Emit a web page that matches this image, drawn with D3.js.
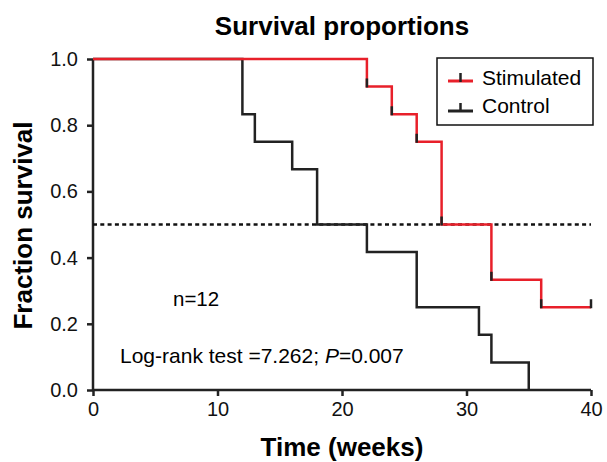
<!DOCTYPE html>
<html>
<head>
<meta charset="utf-8">
<script src="https://cdn.jsdelivr.net/npm/d3@7"></script>
<style>
  body { margin: 0; background: #fff; }
  text { font-family: "Liberation Sans", Arial, sans-serif; }
</style>
</head>
<body>
<svg id="chart"></svg>
<script>
// data (step survival curves, n=12 each)
var controlTimes = [0, 12, 13, 16, 18, 22, 26, 31, 32, 35];
var controlSurv = [1, 0.833, 0.75, 0.667, 0.5, 0.417, 0.25, 0.167, 0.083, 0];
var stimTimes = [0, 22, 24, 26, 28, 32, 36, 40];
var stimSurv = [1, 0.917, 0.833, 0.75, 0.5, 0.333, 0.25, 0.25];
var xTicks = [0, 10, 20, 30, 40];
var yTicks = [0, 0.2, 0.4, 0.6, 0.8, 1.0];

var svgWidth = 607;
var svgHeight = 462;
var margin = {left: 93, right: 16, top: 59, bottom: 72};

var svg = d3.select("#chart")
    .attr("width", svgWidth)
    .attr("height", svgHeight);

var x = d3.scaleLinear().domain([0, 40]).range([margin.left, svgWidth - margin.right]);
var y = d3.scaleLinear().domain([0, 1]).range([svgHeight - margin.bottom, margin.top]);

var xAxis = svg.append("g")
    .attr("transform", "translate(0," + y(0) + ")")
    .call(d3.axisBottom(x).tickValues(xTicks).tickSize(6).tickPadding(6));
var yAxis = svg.append("g")
    .attr("transform", "translate(" + x(0) + ",0)")
    .call(d3.axisLeft(y).tickValues(yTicks).tickSize(6).tickPadding(9).tickFormat(d3.format(".1f")));

[xAxis, yAxis].forEach(function(a) {
    a.select(".domain").attr("stroke", "#222").attr("stroke-width", 2.5).attr("d", function() {
        return a === xAxis ? "M" + (x(0) - 1) + ",0H" + x(40) : "M0," + y(0) + "V" + y(1);
    });
    a.selectAll(".tick line").attr("stroke", "#222").attr("stroke-width", 2.5);
    a.selectAll(".tick text").attr("font-size", 20).attr("fill", "#111")
        .style("font-family", "Liberation Sans, Arial, sans-serif");
});

// median line
svg.append("line")
    .attr("x1", x(0)).attr("x2", x(40))
    .attr("y1", y(0.5)).attr("y2", y(0.5))
    .attr("stroke", "#111").attr("stroke-width", 2.5)
    .attr("stroke-dasharray", "4,3.3");

var line = d3.line()
    .x(function(d) { return x(d[0]); })
    .y(function(d) { return y(d[1]); })
    .curve(d3.curveStepAfter);

svg.append("path")
    .datum(d3.zip(controlTimes, controlSurv))
    .attr("d", line)
    .attr("fill", "none")
    .attr("stroke", "#222")
    .attr("stroke-width", 2.5);

svg.append("path")
    .datum(d3.zip(stimTimes, stimSurv))
    .attr("d", line)
    .attr("fill", "none")
    .attr("stroke", "#e8202a")
    .attr("stroke-width", 2.5);

// small black marks at the red step points
svg.selectAll(".mark")
    .data(d3.zip(stimTimes, stimSurv).slice(1))
    .enter()
    .append("line")
    .attr("x1", function(d) { return x(d[0]); })
    .attr("x2", function(d) { return x(d[0]); })
    .attr("y1", function(d) { return y(d[1]) + 1; })
    .attr("y2", function(d) { return y(d[1]) - 8; })
    .attr("stroke", "#222")
    .attr("stroke-width", 2.5);

// titles
svg.append("text")
    .attr("x", 342).attr("y", 35)
    .attr("text-anchor", "middle")
    .attr("font-size", 26).attr("font-weight", "bold")
    .text("Survival proportions");

svg.append("text")
    .attr("x", x(20)).attr("y", 456)
    .attr("text-anchor", "middle")
    .attr("font-size", 26).attr("font-weight", "bold")
    .text("Time (weeks)");

svg.append("text")
    .attr("transform", "translate(32," + (y(0.5) + 1) + ") rotate(-90)")
    .attr("text-anchor", "middle")
    .attr("font-size", 26).attr("font-weight", "bold")
    .text("Fraction survival");

svg.append("text")
    .attr("x", 173).attr("y", 306)
    .attr("font-size", 20.5)
    .text("n=12");

var lr = svg.append("text")
    .attr("x", 120).attr("y", 363)
    .attr("font-size", 21);
lr.append("tspan").text("Log-rank test =7.262; ");
lr.append("tspan").attr("font-style", "italic").text("P");
lr.append("tspan").text("=0.007");

// legend
var legend = svg.append("g");
legend.append("rect")
    .attr("x", 437).attr("y", 58)
    .attr("width", 156).attr("height", 67)
    .attr("fill", "#fff").attr("stroke", "#111").attr("stroke-width", 1.5);

var legendItems = [
    {name: "Stimulated", color: "#e8202a", yy: 81, ty: 85},
    {name: "Control", color: "#222", yy: 111, ty: 113}
];
legendItems.forEach(function(it) {
    legend.append("line")
        .attr("x1", 448).attr("x2", 473)
        .attr("y1", it.yy).attr("y2", it.yy)
        .attr("stroke", it.color).attr("stroke-width", 3);
    legend.append("line")
        .attr("x1", 460.5).attr("x2", 460.5)
        .attr("y1", it.yy + 1).attr("y2", it.yy - 8)
        .attr("stroke", "#222").attr("stroke-width", 2.5);
    legend.append("text")
        .attr("x", 482).attr("y", it.ty)
        .attr("font-size", 21)
        .text(it.name);
});
</script>
</body>
</html>
